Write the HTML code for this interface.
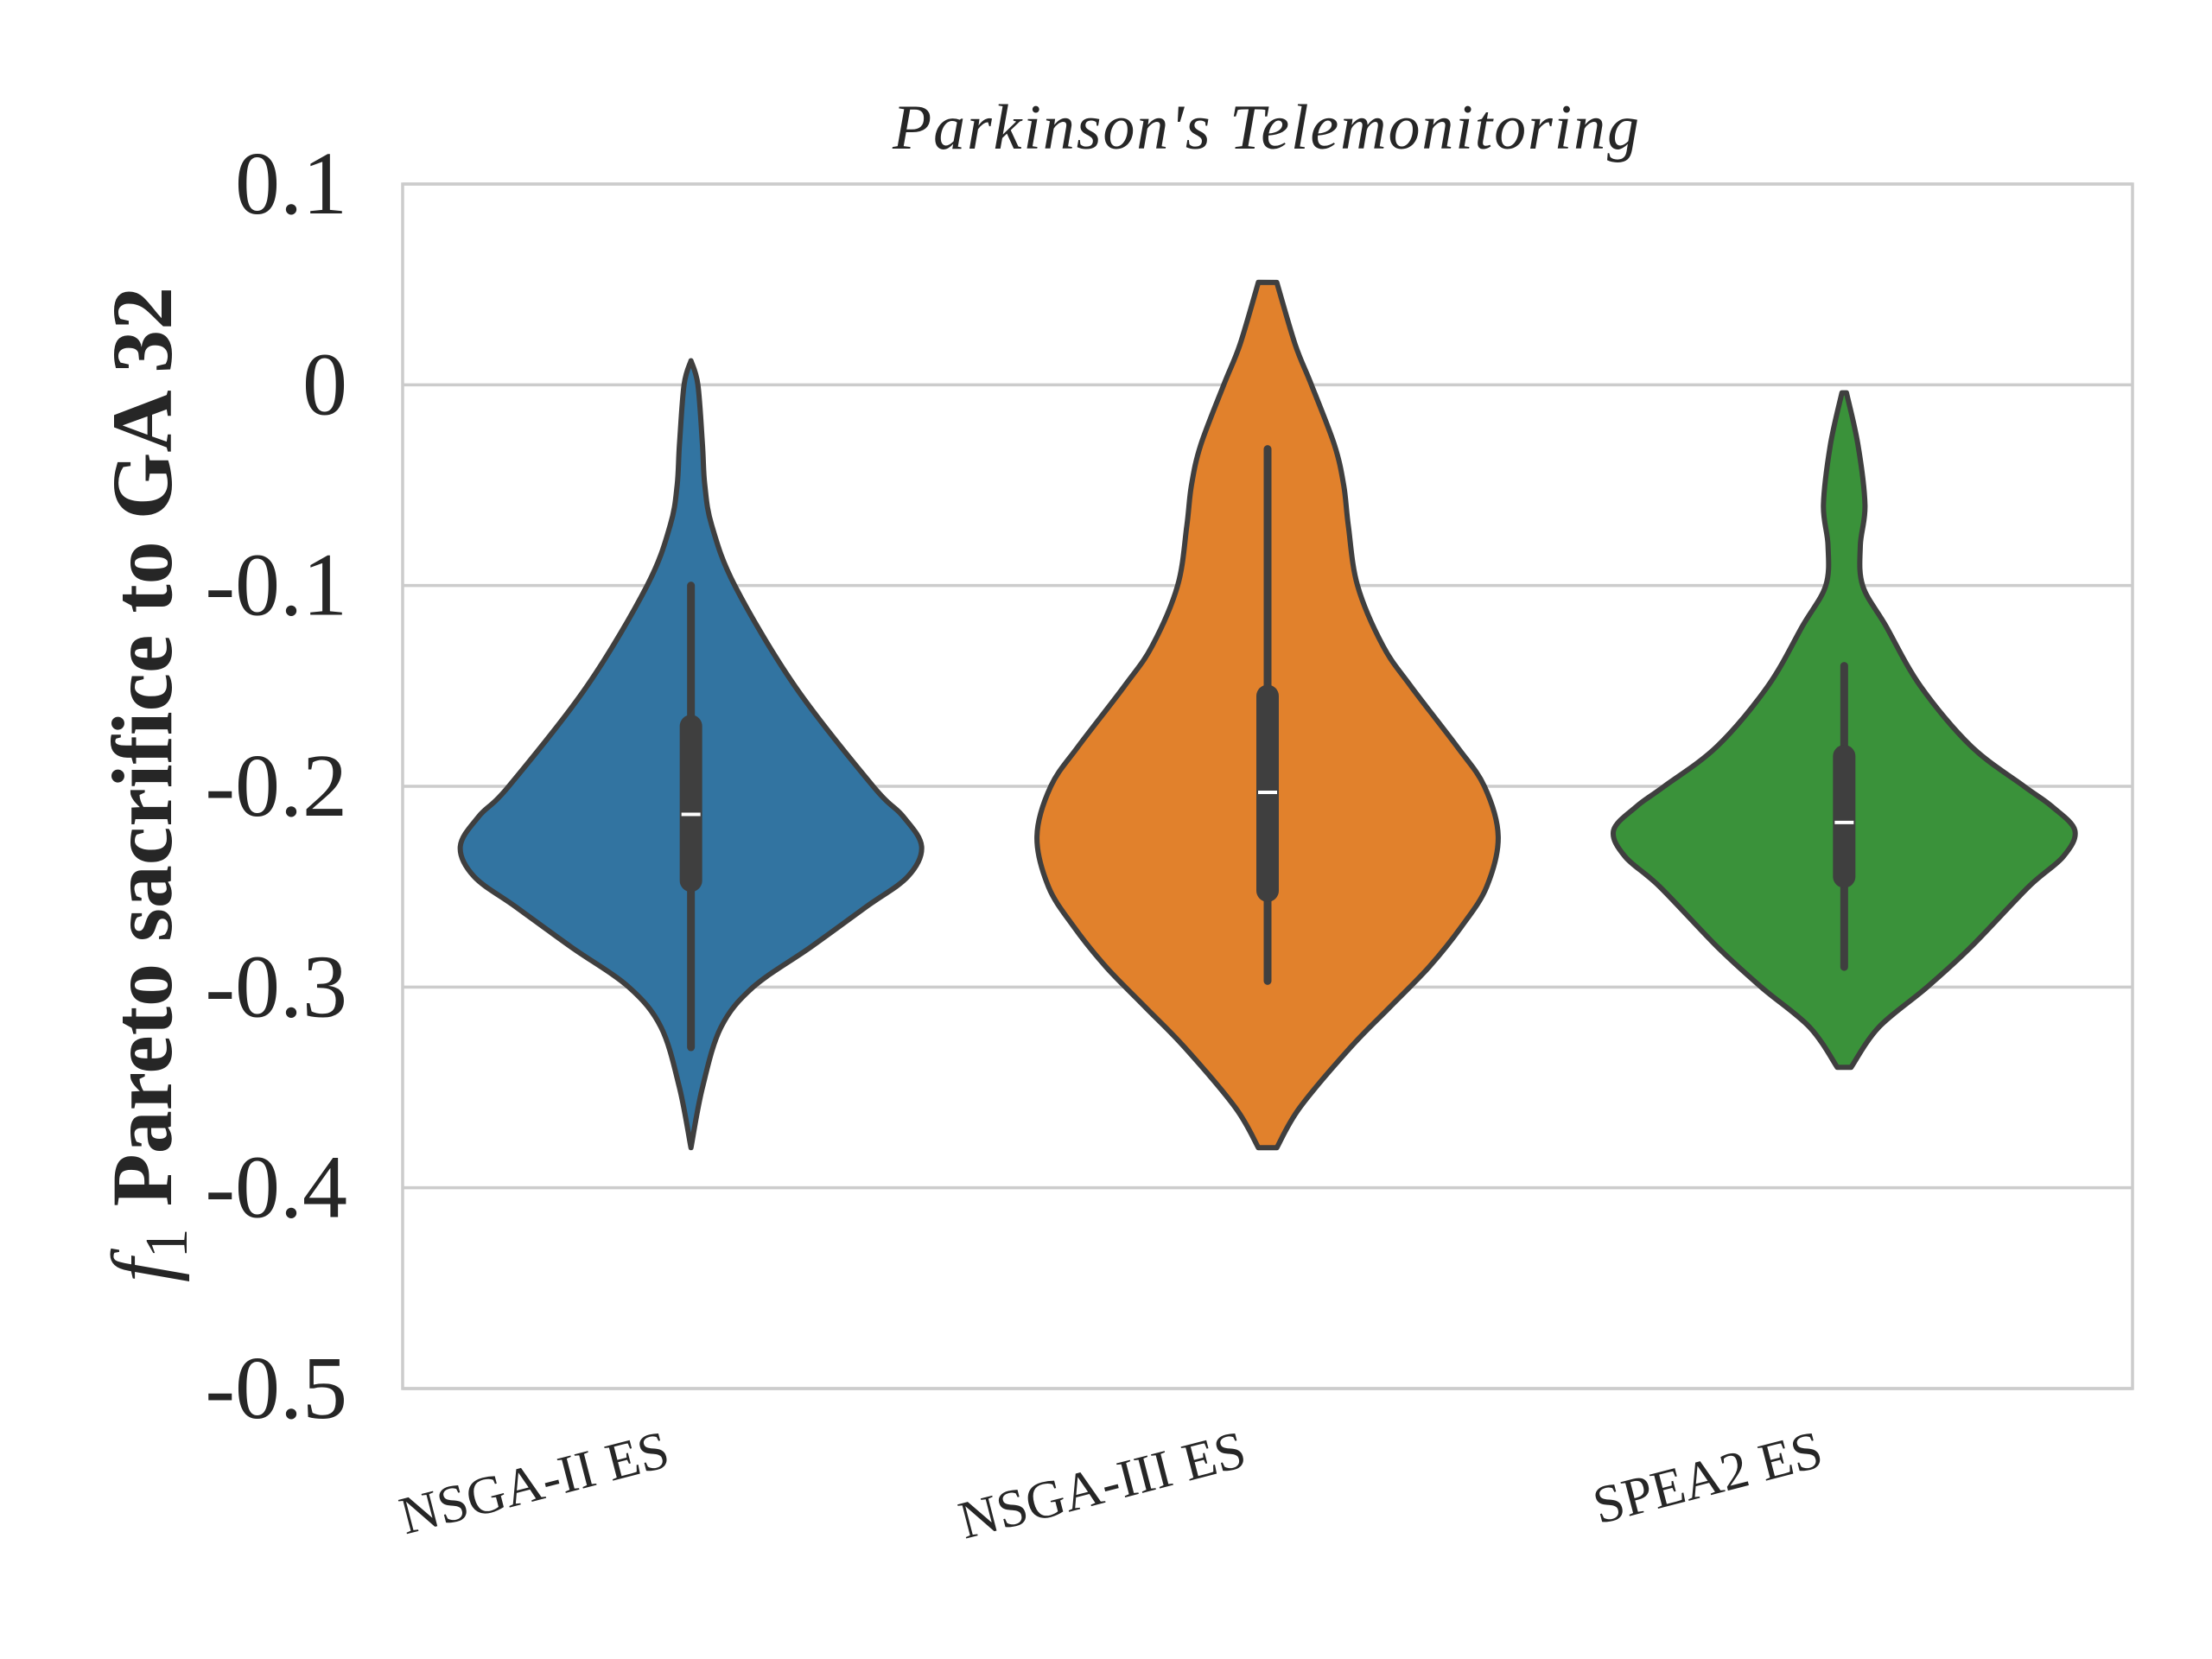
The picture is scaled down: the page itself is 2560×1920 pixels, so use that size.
<!DOCTYPE html>
<html><head><meta charset="utf-8"><style>
html,body{margin:0;padding:0;background:#fff;}
svg{display:block;}
text{font-family:"Liberation Serif","DejaVu Serif",serif;fill:#262626;}
</style></head><body>
<svg id="chart" width="2560" height="1920" viewBox="0 0 2560 1920" xmlns="http://www.w3.org/2000/svg">
<rect x="0" y="0" width="2560" height="1920" fill="#fff"/>
<g id="grid"></g>
<g id="violins"></g>
<rect x="466" y="213" width="2002" height="1394" fill="none" stroke="#cccccc" stroke-width="3.5"/>
<g id="yticks"></g>
<g id="xticks"></g>
<text x="1465" y="172" font-size="74" font-style="italic" text-anchor="middle" textLength="864">Parkinson's Telemonitoring</text>
<text transform="translate(198,908) rotate(-90)" font-size="100" font-weight="bold" text-anchor="middle"><tspan font-style="italic" font-weight="normal">f</tspan><tspan font-weight="normal" font-size="70" dy="18">1</tspan><tspan dy="-18"> Pareto sacrifice to GA 32</tspan></text>
</svg>
<script>
const categories = ["NSGA-II ES", "NSGA-III ES", "SPEA2 ES"];
const colors = ["#3274a1", "#e1812c", "#3a923a"];
const yTicks = [0.1, 0, -0.1, -0.2, -0.3, -0.4, -0.5];
const yTickLabels = ["0.1", "0", "-0.1", "-0.2", "-0.3", "-0.4", "-0.5"];
// density profiles: y values and relative half-widths
const blueY = [0.012, 0.0, -0.03, -0.05, -0.07, -0.1, -0.15, -0.2, -0.215, -0.23, -0.245, -0.26, -0.28, -0.3, -0.32, -0.35, -0.38];
const blueW = [0.0, 0.03, 0.05, 0.06, 0.09, 0.19, 0.45, 0.79, 0.92, 1.0, 0.94, 0.76, 0.52, 0.27, 0.13, 0.05, 0.0];
const orangeY = [0.051, 0.02, 0.0, -0.03, -0.05, -0.07, -0.1, -0.13, -0.15, -0.18, -0.2, -0.225, -0.25, -0.27, -0.29, -0.31, -0.33, -0.36, -0.38];
const orangeW = [0.04, 0.12, 0.19, 0.29, 0.33, 0.35, 0.39, 0.5, 0.62, 0.82, 0.94, 1.0, 0.95, 0.84, 0.7, 0.53, 0.36, 0.14, 0.04];
const greenY = [-0.004, -0.03, -0.06, -0.08, -0.1, -0.12, -0.15, -0.18, -0.2, -0.21, -0.222, -0.235, -0.25, -0.28, -0.3, -0.32, -0.34];
const greenW = [0.01, 0.06, 0.09, 0.07, 0.08, 0.18, 0.33, 0.55, 0.78, 0.9, 1.0, 0.95, 0.8, 0.55, 0.36, 0.15, 0.03];
const whiskLo = [-0.33, -0.297, -0.29];
const whiskHi = [-0.1, -0.032, -0.14];
const q1 = [-0.247, -0.252, -0.245];
const q3 = [-0.17, -0.155, -0.185];
const medians = [-0.214, -0.203, -0.218];

const NS = "http://www.w3.org/2000/svg";
const X0 = 466, X1 = 2468, Y0 = 213, Y1 = 1607, VMAX = 0.1, VMIN = -0.5;
const band = (X1 - X0) / categories.length;
function xScale(i){ return X0 + band * (i + 0.5); }
function yScale(v){ return Y0 + (VMAX - v) / (VMAX - VMIN) * (Y1 - Y0); }
const maxHalf = band * 0.4;
function mk(tag, attrs, parent){ const e = document.createElementNS(NS, tag); for (const k in attrs) e.setAttribute(k, attrs[k]); parent.appendChild(e); return e; }

const grid = document.getElementById('grid');
const yt = document.getElementById('yticks');
yTicks.forEach((t, i) => {
  const y = yScale(t);
  const l = mk('line', {x1: X0, x2: X1, y1: y, y2: y, stroke: '#cccccc', 'stroke-width': 3.5}, grid);
  
  
  const tx = mk('text', {x: 402, y: y + 34, 'font-size': 104, 'text-anchor': 'end'}, yt);
  tx.textContent = yTickLabels[i];
  
  
});

const xt = document.getElementById('xticks');
categories.forEach((c, i) => {
  const x = xScale(i) - 22;
  const tx = mk('text', {x: 0, y: 0, 'font-size': 62, 'text-anchor': 'end', transform: `translate(${x},1696) rotate(-14.5)`}, xt);
  tx.textContent = c;
  
  
});

function smoothSide(pts){
  let d = '';
  for (let i = 0; i < pts.length - 1; i++) {
    const p0 = pts[Math.max(0, i - 1)], p1 = pts[i], p2 = pts[i + 1], p3 = pts[Math.min(pts.length - 1, i + 2)];
    const c1 = [p1[0] + (p2[0] - p0[0]) / 6, p1[1] + (p2[1] - p0[1]) / 6];
    const c2 = [p2[0] - (p3[0] - p1[0]) / 6, p2[1] - (p3[1] - p1[1]) / 6];
    d += ` C${c1[0].toFixed(1)},${c1[1].toFixed(1)} ${c2[0].toFixed(1)},${c2[1].toFixed(1)} ${p2[0].toFixed(1)},${p2[1].toFixed(1)}`;
  }
  return d;
}
const profiles = [[blueY, blueW], [orangeY, orangeW], [greenY, greenW]];
const vg = document.getElementById('violins');
profiles.forEach((p, i) => {
  const cx = xScale(i);
  const [ys, ws] = p;
  const right = ys.map((v, k) => [cx + ws[k] * maxHalf, yScale(v)]);
  const left = ys.map((v, k) => [cx - ws[k] * maxHalf, yScale(v)]).reverse();
  let d = `M${right[0][0]},${right[0][1]}` + smoothSide(right) + ` L${left[0][0]},${left[0][1]}` + smoothSide(left) + ' Z';
  const path = mk('path', {d: d, fill: colors[i], stroke: '#3f3f3f', 'stroke-width': 6, 'stroke-linejoin': 'round'}, vg);
  
  
  const wl = mk('line', {x1: cx, x2: cx, y1: yScale(whiskHi[i]), y2: yScale(whiskLo[i]), stroke: '#3f3f3f', 'stroke-width': 9, 'stroke-linecap': 'round'}, vg);
  
  
  const bx = mk('line', {x1: cx, x2: cx, y1: yScale(q3[i]), y2: yScale(q1[i]), stroke: '#3f3f3f', 'stroke-width': 26, 'stroke-linecap': 'round'}, vg);
  
  
  const md = mk('line', {x1: cx - 11, x2: cx + 11, y1: yScale(medians[i]), y2: yScale(medians[i]), stroke: '#ffffff', 'stroke-width': 4}, vg);
  
  
});
</script>
</body></html>
